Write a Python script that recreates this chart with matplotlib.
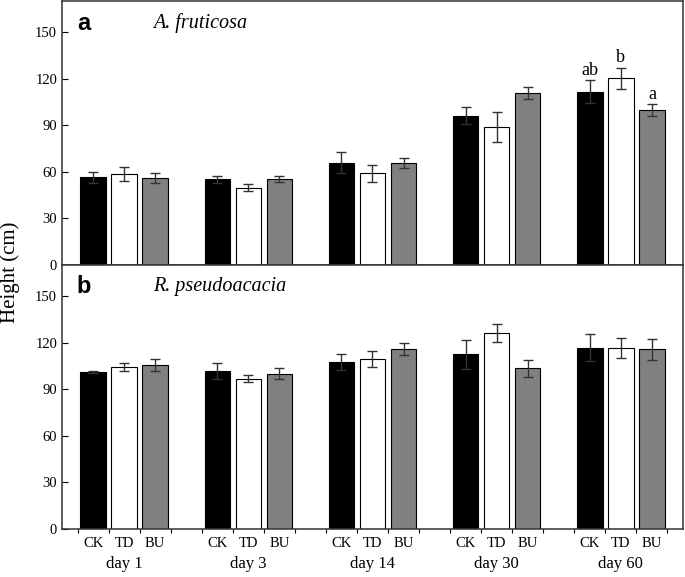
import numpy as np
import matplotlib.pyplot as plt

days = ['day 1', 'day 3', 'day 14', 'day 30', 'day 60']
treatments = ['CK', 'TD', 'BU']
colors = ['black', 'white', 'gray']

# A. fruticosa
af_mean = {'CK': [56.5, 55.2, 65.9, 96.2, 111.6],
           'TD': [58.4, 49.8, 59.0, 88.9, 120.4],
           'BU': [55.8, 55.6, 65.7, 110.7, 99.8]}
af_err = {'CK': [3.5, 2.1, 6.6, 5.3, 7.3],
          'TD': [4.5, 2.4, 5.6, 9.4, 6.7],
          'BU': [3.2, 2.0, 3.0, 3.9, 3.7]}
af_letters = ['ab', 'b', 'a']  # day 60

# R. pseudoacacia
rp_mean = {'CK': [101.1, 101.7, 107.3, 112.5, 116.7],
           'TD': [104.1, 96.8, 109.7, 126.2, 116.5],
           'BU': [105.4, 100.0, 116.1, 103.5, 115.7]}
rp_err = {'CK': [0.8, 5.0, 5.2, 9.4, 8.7],
          'TD': [2.6, 2.2, 5.1, 6.0, 6.7],
          'BU': [3.9, 3.5, 3.9, 5.5, 6.8]}

plt.rcParams['font.family'] = 'Liberation Serif'

fig = plt.figure(figsize=(6.85, 5.77), dpi=100)
ax1 = fig.add_axes([0.0905, 0.5407, 0.9065, 0.4573])
ax2 = fig.add_axes([0.0905, 0.0832, 0.9065, 0.4575])

x = np.arange(1, len(days) + 1)
offs = [-0.25, 0, 0.25]
w = 0.205

def draw(ax, means, errs, tag, name):
    for k, t in enumerate(treatments):
        ax.bar(x + offs[k], means[t], w, color=colors[k], edgecolor='black', linewidth=0.8, zorder=2)
        ax.errorbar(x + offs[k], means[t], yerr=errs[t], fmt='none', ecolor='#333333',
                    elinewidth=1, capsize=3.5, capthick=1, zorder=3)
    ax.set_xlim(0.5, 5.5)
    ax.set_ylim(0, 170)
    ax.set_yticks([0, 30, 60, 90, 120, 150])
    ax.tick_params(axis='y', direction='in', length=4, labelsize=10.5)
    for s in ax.spines.values():
        s.set_linewidth(1.1)
        s.set_color('#333333')
    ax.text(0.024, 0.917, tag, transform=ax.transAxes, fontsize=17, fontweight='bold',
            family='Liberation Sans', va='center', ha='left')
    ax.text(0.147, 0.917, name, transform=ax.transAxes, fontsize=14.5, style='italic',
            va='center', ha='left')

draw(ax1, af_mean, af_err, 'a', 'A. fruticosa')
draw(ax2, rp_mean, rp_err, 'b', 'R. pseudoacacia')

ax1.set_xticks([])
for k, t in enumerate(treatments):
    ax1.annotate(af_letters[k], (x[-1] + offs[k], af_mean[t][-1] + af_err[t][-1]),
                 xytext=(0, 1), textcoords='offset points', ha='center', va='bottom', fontsize=13)

ticks = []
for d in x:
    ticks += [d - 0.375, d - 0.125, d + 0.125, d + 0.375]
ax2.set_xticks(ticks)
ax2.set_xticklabels([])
ax2.tick_params(axis='x', direction='out', length=3)
for d in x:
    for k, t in enumerate(treatments):
        ax2.text(d + offs[k], -5, t, ha='center', va='top', fontsize=10.5)
for d, lab in zip(x, days):
    ax2.text(d, -17.5, lab, ha='center', va='top', fontsize=12)

fig.text(0.015, 0.5286, 'Height (cm)', rotation=90, ha='center', va='center', fontsize=15)

fig.savefig('out.png', dpi=100)
